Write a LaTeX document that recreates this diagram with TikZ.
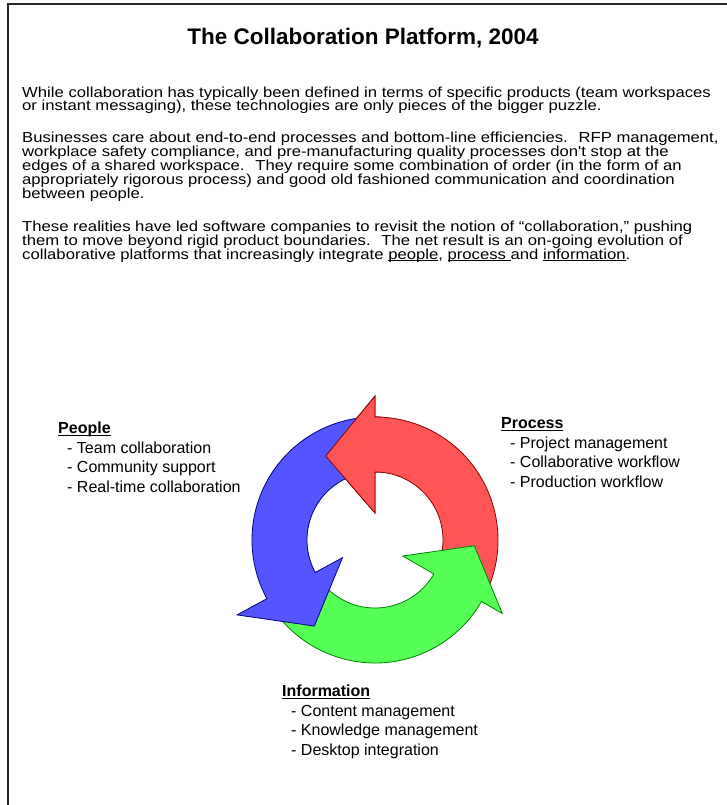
\documentclass[tikz,border=0pt]{standalone}
\usepackage{fontspec}
\setmainfont{Liberation Sans}
\newfontfamily\bodyfont[FakeStretch=1.15]{Liberation Sans}
\usepackage{tikz}
\usetikzlibrary{positioning}

\definecolor{redfill}{RGB}{255,85,85}
\definecolor{redline}{RGB}{140,0,0}
\definecolor{greenfill}{RGB}{85,255,85}
\definecolor{greenline}{RGB}{0,130,0}
\definecolor{bluefill}{RGB}{85,85,255}
\definecolor{blueline}{RGB}{0,0,130}

% underlined word, line just under the baseline
\newcommand{\ulword}[1]{\setbox0\hbox{#1}\rlap{\rule[-1.9pt]{\wd0}{0.9pt}}\box0}

% one curved arrow of the cycle:
% #1 tail angle, #2 head base angle, #3/#4 outer/inner point of the head,
% #5/#6 angle/radius of the tip, #7 colour
\newcommand{\cyclearrow}[7]{%
  \filldraw[fill=#7fill, draw=#7line, line width=0.8pt, line join=miter]
    (#1:68) -- (#1:123)
    arc[start angle=#1, end angle=#2, radius=123]
    -- (#2:#3) -- (#5:#6) -- (#2:#4) -- (#2:68)
    arc[start angle=#2, end angle=#1, radius=68] -- cycle;}

\begin{document}
\lineskiplimit=-20pt
\begin{tikzpicture}[x=1pt, y=1pt]
\tikzset{title/.style = {anchor=base, inner sep=0pt, font={\fontsize{22.5}{26}\selectfont\bfseries}}}
% multi-line nodes: the base is the baseline of the last line
\tikzset{para/.style = {anchor=base west, inner sep=0pt, align=left,
    font={\bodyfont\fontsize{14.5}{13.8}\selectfont}}}
\tikzset{group/.style = {anchor=base west, inner sep=0pt, align=left,
    font={\fontsize{16}{19.5}\selectfont}}}
\useasboundingbox (0,0) rectangle (727,-805);

% frame
\draw[line width=1.2pt, black!85] (8,-805) -- (8,-4) -- (727,-4);

% title and text
\node[title] (head) at (363,-45) {The Collaboration Platform, 2004};
\node[para] (p1) at (22,-111) {While collaboration has typically been defined in terms of specific products (team workspaces\\
or instant messaging), these technologies are only pieces of the bigger puzzle.};
\node[para] (p2) at (22,-198) {Businesses care about end-to-end processes and bottom-line efficiencies.~ RFP management,\\
workplace safety compliance, and pre-manufacturing quality processes don't stop at the\\
edges of a shared workspace.~ They require some combination of order (in the form of an\\
appropriately rigorous process) and good old fashioned communication and coordination\\
between people.};
\node[para] (p3) at (22,-259) {These realities have led software companies to revisit the notion of “collaboration,” pushing\\
them to move beyond rigid product boundaries.~ The net result is an on-going evolution of\\
collaborative platforms that increasingly integrate \ulword{people}, \ulword{process\ }and \ulword{information}.};

% the cycle
\begin{scope}[shift={(375,-540)}]
  \cyclearrow{-30}{90}{144}{27}{120.4}{97.4}{red}
  \cyclearrow{208.5}{330}{147}{32}{356.7}{99.5}{green}
  \cyclearrow{88.5}{208.5}{157}{37}{234.8}{105.3}{blue}
  % red head lies over the blue tail
  \begin{scope}
    \clip (0,0) -- (86:200) arc[start angle=86, end angle=125, radius=200] -- cycle;
    \cyclearrow{-30}{90}{144}{27}{120.4}{97.4}{red}
  \end{scope}
\end{scope}

% labels
\node[group] (people) at (58,-492) {\ulword{\textbf{People}}\\
\hspace*{9pt}- Team collaboration\\
\hspace*{9pt}- Community support\\
\hspace*{9pt}- Real-time collaboration};
\node[group] (process) at (501,-487) {\ulword{\textbf{Process}}\\
\hspace*{9pt}- Project management\\
\hspace*{9pt}- Collaborative workflow\\
\hspace*{9pt}- Production workflow};
\node[group] (information) at (282,-755) {\ulword{\textbf{Information}}\\
\hspace*{9pt}- Content management\\
\hspace*{9pt}- Knowledge management\\
\hspace*{9pt}- Desktop integration};
\end{tikzpicture}
\end{document}
